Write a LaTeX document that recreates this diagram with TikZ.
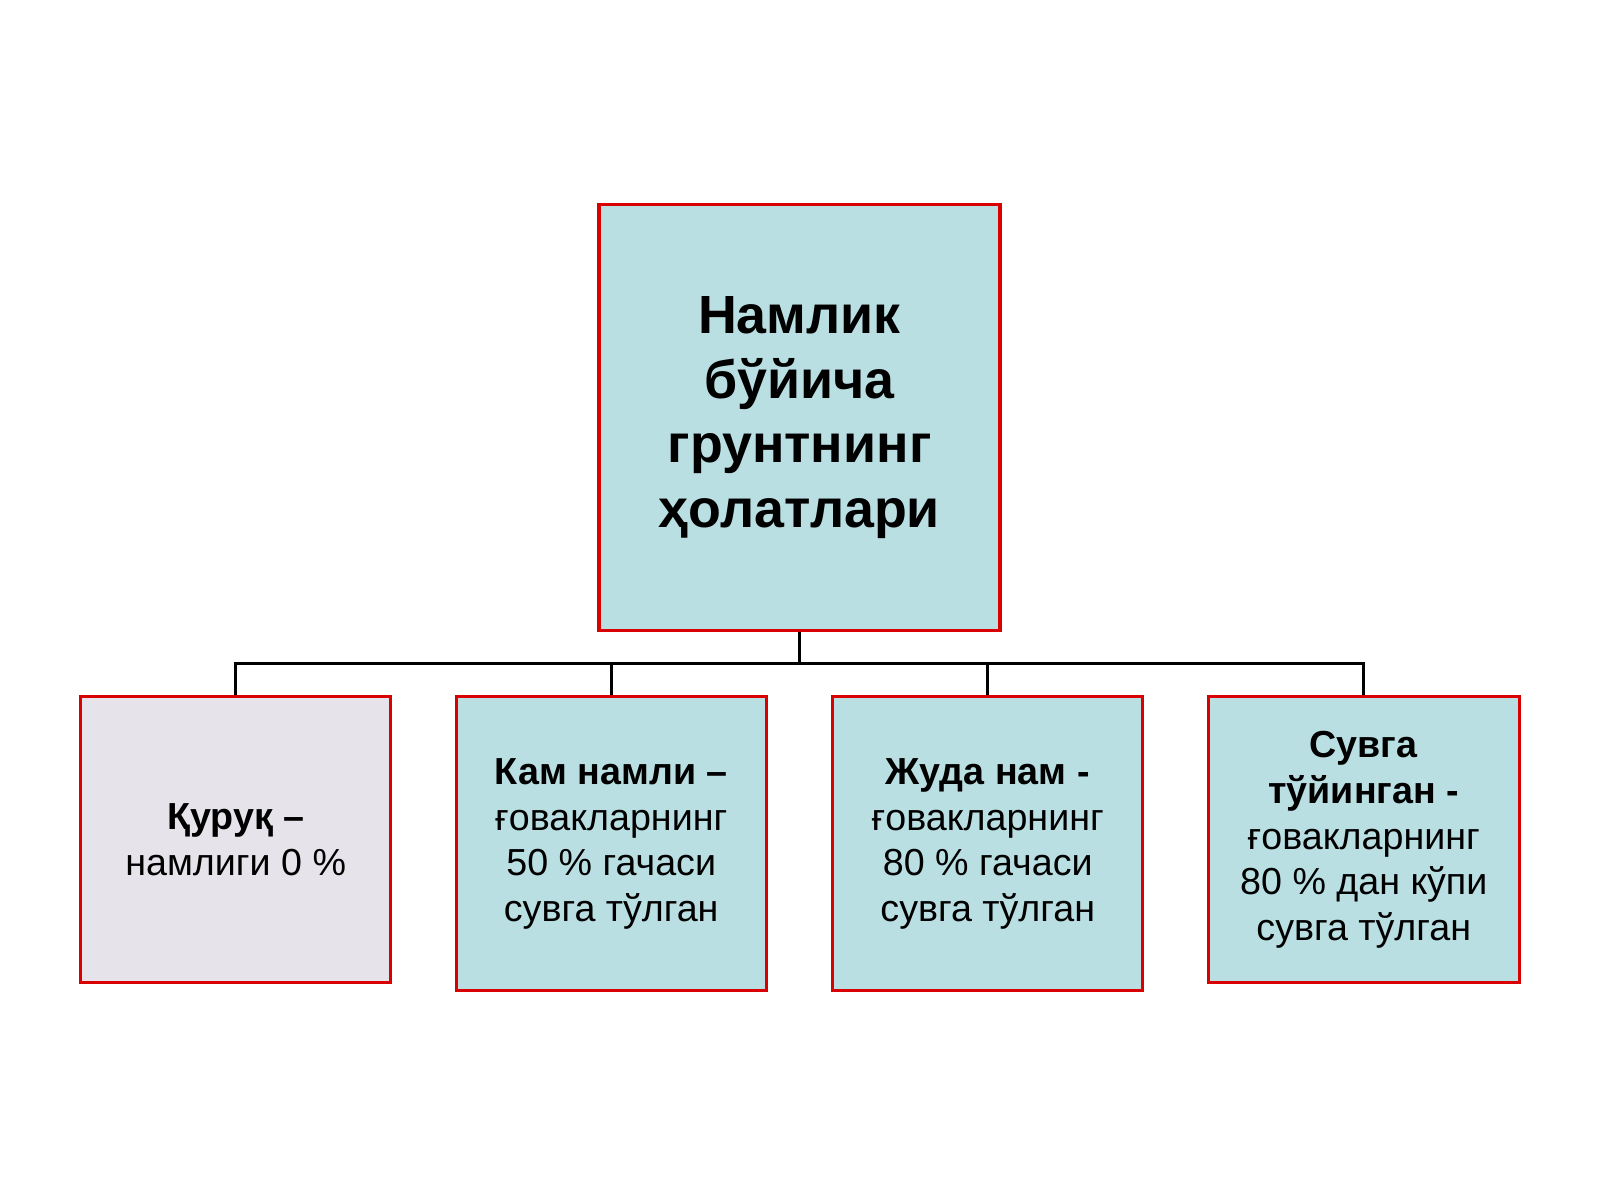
\documentclass[tikz,border=0pt]{standalone}
\usepackage{fontspec}
\setmainfont{Liberation Sans}
\begin{document}
\begin{tikzpicture}[x=0.02cm,y=-0.02cm,
  box/.style={draw=red!85!black,line width=0.06cm,fill=boxblue,align=center,inner sep=2pt},
  small/.style={box,font=\fontsize{21}{25.5}\selectfont},
  conn/.style={line width=0.06cm,black}]
\definecolor{boxblue}{HTML}{B9DFE3}
\definecolor{boxgray}{HTML}{E6E4EA}
\useasboundingbox (0,0) rectangle (1568,1176);
\node[box,minimum width=393*0.02cm,minimum height=418*0.02cm,font=\bfseries\fontsize{30}{36}\selectfont] (top) at (783.5,409) {Намлик\\бўйича\\грунтнинг\\ҳолатлари};
\node[small,fill=boxgray,minimum width=304*0.02cm,minimum height=280*0.02cm] (b1) at (231,823) {\textbf{Қуруқ –}\\намлиги 0 \%};
\node[small,minimum width=304*0.02cm,minimum height=288*0.02cm] (b2) at (599,827) {\textbf{Кам намли –}\\ғовакларнинг\\50 \% гачаси\\сувга тўлган};
\node[small,minimum width=304*0.02cm,minimum height=288*0.02cm] (b3) at (968,827) {\textbf{Жуда нам -}\\ғовакларнинг\\80 \% гачаси\\сувга тўлган};
\node[small,minimum width=305*0.02cm,minimum height=280*0.02cm] (b4) at (1336.5,823) {\textbf{Сувга}\\\textbf{тўйинган -}\\ғовакларнинг\\80 \% дан кўпи\\сувга тўлган};
\coordinate (bus) at (783.5,650);
\draw[conn] (top.south) -- (bus);
\foreach \b in {b1,b2,b3,b4} \draw[conn] (bus) -| (\b.north);
\end{tikzpicture}
\end{document}
